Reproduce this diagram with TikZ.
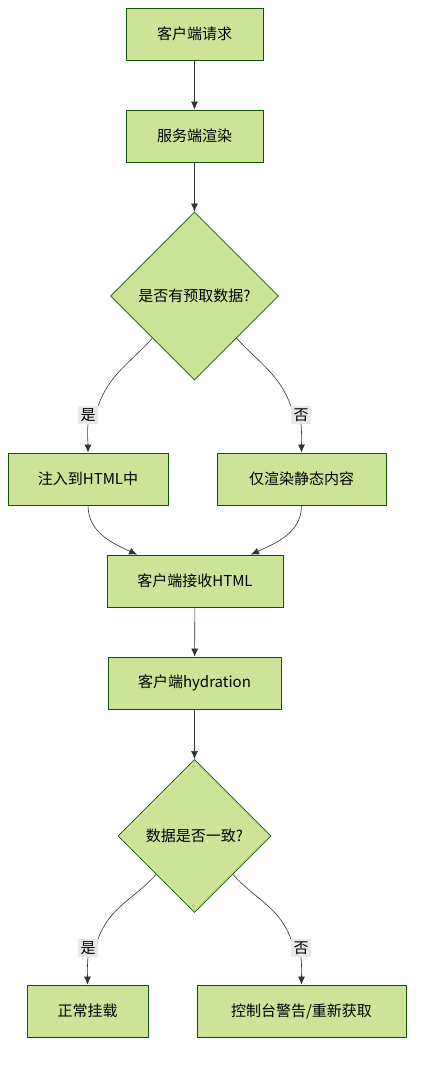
\documentclass[tikz,border=0pt]{standalone}
\usepackage{fontspec}
\setmainfont{Noto Sans CJK SC}
\usetikzlibrary{shapes.geometric,arrows.meta}
\definecolor{boxfill}{HTML}{CDE498}
\definecolor{boxline}{HTML}{13540C}
\definecolor{lblfill}{HTML}{E8E8E8}
\definecolor{edge}{HTML}{333333}
\tikzset{
  box/.style={draw=boxline,fill=boxfill,line width=0.8pt,minimum height=52pt,
    inner sep=0pt,font=\fontsize{15pt}{18pt}\selectfont},
  choice/.style={diamond,draw=boxline,fill=boxfill,line width=0.8pt,aspect=1,
    inner sep=0pt,font=\fontsize{15pt}{18pt}\selectfont},
  lbl/.style={fill=lblfill,inner sep=2.5pt,font=\fontsize{15pt}{18pt}\selectfont},
  arr/.style={draw=edge,line width=0.6pt,-{Latex[length=8pt,width=7pt]}},
  wire/.style={draw=edge,line width=0.6pt}
}
\begin{document}
\begin{tikzpicture}[x=1pt,y=-1pt]
\useasboundingbox (0,0) rectangle (422,1066);
% boxes and decisions
\node[box,minimum width=137pt] (req) at (194.5,34) {客户端请求};
\node[box,minimum width=137pt] (ssr) at (194.5,136) {服务端渲染};
\node[choice,minimum size=168pt] (pre) at (194.5,296) {是否有预取数据?};
\node[box,minimum width=160pt] (inj) at (88,479) {注入到HTML中};
\node[box,minimum width=169pt] (stat) at (301.5,479) {仅渲染静态内容};
\node[box,minimum width=176pt] (recv) at (195,581) {客户端接收HTML};
\node[box,minimum width=173pt] (hyd) at (194.5,683) {客户端hydration};
\node[choice,minimum size=153pt] (same) at (194.5,836) {数据是否一致?};
\node[box,minimum width=121pt] (mount) at (87.5,1011) {正常挂载};
\node[box,minimum width=209pt] (warn) at (301.5,1011) {控制台警告/重新获取};
% edge labels
\node[lbl] (yesa) at (88,415) {是};
\node[lbl] (noa) at (301,415) {否};
\node[lbl] (yesb) at (88,948) {是};
\node[lbl] (nob) at (301,948) {否};
% connectors
\draw[arr] (req) -- (ssr);
\draw[arr] (ssr) -- (pre);
\draw[wire] (pre.south west) to[out=-132,in=70] (yesa.north east);
\draw[arr] (yesa.south) to[out=-95,in=90] (inj.north);
\draw[wire] (pre.south east) to[out=-48,in=110] (noa.north west);
\draw[arr] (noa.south) to[out=-85,in=90] (stat.north);
\draw[arr] (inj.south) to[out=-90,in=155] ([xshift=-58pt]recv.north);
\draw[arr] (stat.south) to[out=-90,in=25] ([xshift=56pt]recv.north);
\draw[arr] (recv) -- (hyd);
\draw[arr] (hyd) -- (same);
\draw[wire] (same.south west) to[out=-132,in=70] (yesb.north east);
\draw[arr] (yesb.south) to[out=-95,in=90] (mount.north);
\draw[wire] (same.south east) to[out=-48,in=110] (nob.north west);
\draw[arr] (nob.south) to[out=-85,in=90] (warn.north);
\end{tikzpicture}
\end{document}
